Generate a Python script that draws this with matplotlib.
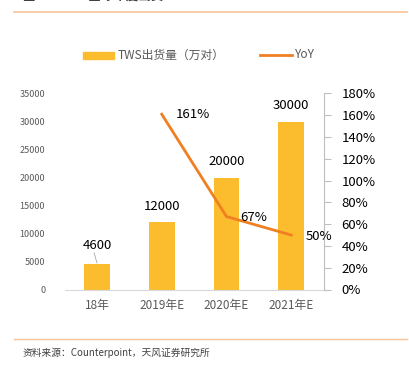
import matplotlib
matplotlib.use("Agg")
import matplotlib.pyplot as plt
from matplotlib.ticker import FuncFormatter

plt.rcParams['font.family'] = ['Noto Sans CJK SC', 'DejaVu Sans']

categories = ["18年", "2019年E", "2020年E", "2021年E"]
shipments = [4600, 12000, 20000, 30000]
yoy_cats = [1, 2, 3]
yoy = [161, 67, 50]
left_ticks = [0, 5000, 10000, 15000, 20000, 25000, 30000, 35000]
right_ticks = [0, 20, 40, 60, 80, 100, 120, 140, 160, 180]

W, H = 409, 370
fig = plt.figure(figsize=(W / 100, H / 100), dpi=100)

bar_color = "#FBBD2E"
line_color = "#F07F22"
rule_color = "#F8C496"

ax = fig.add_axes([64.6 / W, 1 - 289.5 / H, (323.6 - 64.6) / W, (289.5 - 93.5) / H])
x = list(range(len(categories)))
ax.bar(x, shipments, width=0.4, color=bar_color, zorder=2)
ax.set_xlim(-0.5, 3.5)
ax.set_ylim(0, 35000)
ax.set_yticks(left_ticks)
ax.set_yticklabels([str(v) for v in left_ticks], fontsize=6.5, color="#595959")
ax.tick_params(axis='y', length=0, pad=14)
ax.set_xticks(x)
ax.set_xticklabels(categories, fontsize=8.5, color="#595959")
ax.tick_params(axis='x', length=0, pad=7)
for s in ["top", "right", "left"]:
    ax.spines[s].set_visible(False)
ax.spines["bottom"].set_color("#D9D9D9")

# bar labels
for i, v in enumerate(shipments):
    dy = 3200 if i == 0 else 2800
    ax.text(i, v + dy, str(v), ha='center', va='center', fontsize=9.5, color="black")
ax.plot([-0.045, 0.0], [4600 + 1950, 4600 + 150], color="#A6A6A6", lw=0.6)

ax2 = ax.twinx()
ax2.plot(yoy_cats, yoy, color=line_color, lw=2, zorder=3)
ax2.set_ylim(0, 180)
ax2.set_yticks(right_ticks)
ax2.yaxis.set_major_formatter(FuncFormatter(lambda v, p: f"{int(v)}%"))
ax2.tick_params(axis='y', labelsize=9.5, colors="#BFBFBF", labelcolor="black", length=5, pad=8)
for s in ["top", "left", "bottom"]:
    ax2.spines[s].set_visible(False)
ax2.spines["right"].set_color("#BFBFBF")

offsets = [(0.22, 0), (0.22, -1), (0.22, -1)]
for cx, v, (ox, oy) in zip(yoy_cats, yoy, offsets):
    ax2.text(cx + ox, v + oy, f"{v}%", ha='left', va='center', fontsize=9.5, color="black")

# legend
fig.patches.append(plt.Rectangle((83 / W, 1 - 59 / H), 31 / W, 7 / H, transform=fig.transFigure, color=bar_color))
fig.text(118 / W, 1 - 55 / H, "TWS出货量（万对）", fontsize=8.5, color="#595959", va='center', ha='left')
fig.lines.append(plt.Line2D([260 / W, 292 / W], [1 - 55 / H, 1 - 55 / H], transform=fig.transFigure, color=line_color, lw=2))
fig.text(295 / W, 1 - 55 / H, "YoY", fontsize=8.5, color="#595959", va='center', ha='left')

# title (cut off at top in the reference) and rules
fig.text(23 / W, 1 - (-3.5) / H, "图 4：TWS 全球年度出货", fontsize=9, color="#404040", va='center', ha='left', fontweight='bold')
fig.lines.append(plt.Line2D([14 / W, 407 / W], [1 - 12 / H, 1 - 12 / H], transform=fig.transFigure, color=rule_color, lw=1.2))
fig.lines.append(plt.Line2D([14 / W, 407 / W], [1 - 339 / H, 1 - 339 / H], transform=fig.transFigure, color=rule_color, lw=1.0))
fig.text(23 / W, 1 - 353 / H, "资料来源：Counterpoint，天风证券研究所", fontsize=7, color="#404040", va='center', ha='left')

fig.savefig("out.png", dpi=100)
